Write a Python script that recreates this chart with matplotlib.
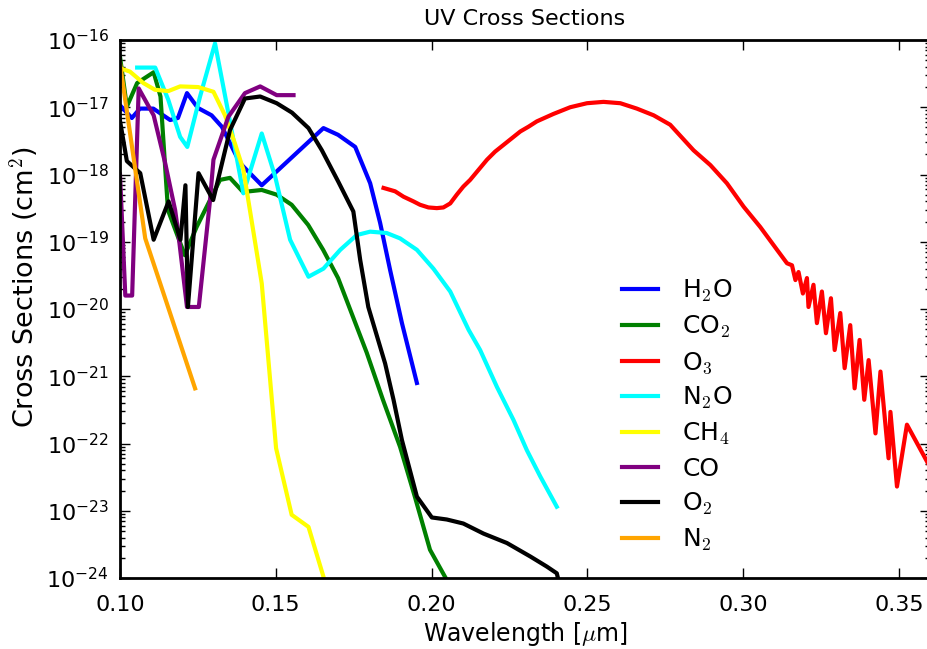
import numpy as np
import matplotlib
matplotlib.use('Agg')
import matplotlib.pyplot as plt
from matplotlib.ticker import (FixedLocator, FormatStrFormatter, NullFormatter,
                               LogFormatterSciNotation, LogLocator)

# Values; cross sections kept as log10(cm^2)
h2o_x = [0.100, 0.1038, 0.1064, 0.1107, 0.1161, 0.1186, 0.1215, 0.1250, 0.1294, 0.1327,
         0.1385, 0.1455, 0.1653, 0.1700, 0.1755, 0.1803, 0.1835, 0.1867, 0.1905, 0.1953]
h2o_log = [-16.97, -17.16, -17.02, -17.02, -17.19, -17.16, -16.79, -17.01, -17.12, -17.29,
           -17.83, -18.16, -17.31, -17.41, -17.59, -18.13, -18.72, -19.42, -20.21, -21.10]

co2_x = [0.100, 0.1022, 0.1055, 0.1108, 0.1130, 0.1154, 0.1208, 0.1246, 0.1289, 0.1321,
         0.1353, 0.1395, 0.1455, 0.1503, 0.1551, 0.1604, 0.1652, 0.1700, 0.1739, 0.1792,
         0.1844, 0.1899, 0.1947, 0.1995, 0.2049, 0.2058]
co2_log = [-16.25, -16.99, -16.64, -16.48, -16.84, -18.53, -19.20, -18.78, -18.38, -18.08,
           -18.05, -18.26, -18.23, -18.30, -18.45, -18.75, -19.12, -19.54, -20.01, -20.65,
           -21.35, -22.05, -22.80, -23.58, -24.03, -24.15]

o3_x = [0.1846, 0.1883, 0.1910, 0.1942, 0.1963, 0.1990, 0.2017, 0.2038, 0.2060, 0.2081,
        0.2102, 0.2124, 0.2151, 0.2178, 0.2204, 0.2231, 0.2258, 0.2285, 0.2311, 0.2338,
        0.2391, 0.2445, 0.2499, 0.2552, 0.2606, 0.2659, 0.2713, 0.2766, 0.2841, 0.2895,
        0.2948, 0.3002, 0.3055, 0.3109, 0.3141, 0.3157, 0.3168, 0.3178, 0.3192, 0.3205,
        0.3210, 0.3226, 0.3237, 0.3253, 0.3266, 0.3282, 0.3294, 0.3312, 0.3326, 0.3344,
        0.3358, 0.3374, 0.3389, 0.3403, 0.3425, 0.3441, 0.3467, 0.3473, 0.3494, 0.3526,
        0.3600]
o3_log = [-18.20, -18.25, -18.33, -18.40, -18.45, -18.49, -18.50, -18.49, -18.43, -18.30,
          -18.18, -18.08, -17.93, -17.78, -17.66, -17.56, -17.46, -17.36, -17.29, -17.21,
          -17.10, -17.00, -16.94, -16.92, -16.94, -17.02, -17.12, -17.26, -17.64, -17.86,
          -18.13, -18.48, -18.78, -19.12, -19.32, -19.35, -19.57, -19.45, -19.77, -19.54,
          -19.97, -19.64, -20.21, -19.74, -20.36, -19.84, -20.61, -20.06, -20.88, -20.24,
          -21.18, -20.46, -21.35, -20.76, -21.85, -20.93, -22.22, -21.53, -22.64, -21.72,
          -22.35]

n2o_x = [0.1055, 0.1113, 0.1155, 0.1193, 0.1216, 0.1257, 0.1305, 0.1348, 0.1396, 0.1455,
         0.1498, 0.1546, 0.1605, 0.1653, 0.1707, 0.1760, 0.1803, 0.1856, 0.1899, 0.1953,
         0.2006, 0.2060, 0.2119, 0.2156, 0.2210, 0.2263, 0.2306, 0.2349, 0.2402]
n2o_log = [-16.41, -16.41, -16.89, -17.44, -17.59, -16.84, -16.05, -17.09, -18.28, -17.39,
           -18.03, -18.97, -19.52, -19.40, -19.12, -18.90, -18.85, -18.87, -18.95, -19.12,
           -19.40, -19.74, -20.31, -20.61, -21.16, -21.65, -22.10, -22.49, -22.94]

ch4_x = [0.100, 0.1032, 0.1075, 0.1112, 0.1155, 0.1193, 0.1251, 0.1300, 0.1337, 0.1369,
         0.1396, 0.1417, 0.1455, 0.1482, 0.1501, 0.1551, 0.1605, 0.1653, 0.1665]
ch4_log = [-16.42, -16.47, -16.64, -16.74, -16.76, -16.69, -16.70, -16.77, -17.12, -17.54,
           -17.93, -18.53, -19.62, -21.06, -22.07, -23.06, -23.24, -23.98, -24.20]

co_x = [0.100, 0.1017, 0.1039, 0.1060, 0.1108, 0.1145, 0.1177, 0.1187, 0.1215, 0.1253,
        0.1289, 0.1300, 0.1348, 0.1401, 0.1450, 0.1503, 0.1557]
co_log = [-18.00, -19.80, -19.80, -16.72, -17.12, -17.83, -18.53, -18.87, -19.97, -19.97,
          -18.38, -17.78, -17.14, -16.79, -16.69, -16.82, -16.82]

o2_x = [0.100, 0.1022, 0.1065, 0.1108, 0.1156, 0.1194, 0.1210, 0.1218, 0.1252, 0.1299,
        0.1353, 0.1401, 0.1450, 0.1503, 0.1552, 0.1605, 0.1648, 0.1701, 0.1749, 0.1771,
        0.1797, 0.1851, 0.1878, 0.1905, 0.1953, 0.2001, 0.2049, 0.2102, 0.2167, 0.2242,
        0.2317, 0.2370, 0.2402, 0.2410]
o2_log = [-17.20, -17.80, -17.98, -18.97, -18.40, -18.97, -18.16, -19.97, -17.98, -18.38,
          -17.34, -16.87, -16.84, -16.94, -17.08, -17.31, -17.64, -18.11, -18.55, -19.27,
          -19.97, -20.81, -21.35, -21.95, -22.79, -23.10, -23.13, -23.19, -23.34, -23.48,
          -23.68, -23.83, -23.93, -24.08]

n2_x = [0.100, 0.1081, 0.1241]
n2_log = [-16.35, -18.95, -21.18]

species = [
    ('H$_2$O', h2o_x, h2o_log, 'blue'),
    ('CO$_2$', co2_x, co2_log, 'green'),
    ('O$_3$', o3_x, o3_log, 'red'),
    ('N$_2$O', n2o_x, n2o_log, 'cyan'),
    ('CH$_4$', ch4_x, ch4_log, 'yellow'),
    ('CO', co_x, co_log, 'purple'),
    ('O$_2$', o2_x, o2_log, 'black'),
    ('N$_2$', n2_x, n2_log, 'orange'),
]

xticks = [0.10, 0.15, 0.20, 0.25, 0.30, 0.35]
ydecades = [1e-24, 1e-23, 1e-22, 1e-21, 1e-20, 1e-19, 1e-18, 1e-17, 1e-16]

plt.rcParams['mathtext.fontset'] = 'cm'
plt.rcParams['axes.unicode_minus'] = False
plt.rcParams['xtick.direction'] = 'in'
plt.rcParams['ytick.direction'] = 'in'
plt.rcParams['xtick.top'] = True
plt.rcParams['ytick.right'] = True

fig = plt.figure(figsize=(9.28, 6.49), dpi=100)
ax = fig.add_axes([120 / 928, 71 / 649, 810 / 928, 538 / 649])

# plot each gas, data is stored as log10 so convert back
for name, xs, logs, col in species:
    ax.plot(xs, 10.0 ** np.array(logs), color=col, lw=3, label=name)

ax.set_yscale('log')
ax.set_xlim(0.10, 0.36)
ax.set_ylim(1e-24, 1e-16)
ax.xaxis.set_major_locator(FixedLocator(xticks))
ax.xaxis.set_major_formatter(FormatStrFormatter('%.2f'))
ax.yaxis.set_major_locator(FixedLocator(ydecades))
ax.yaxis.set_major_formatter(LogFormatterSciNotation())
ax.yaxis.set_minor_locator(LogLocator(base=10, subs=np.arange(2, 10)))
ax.yaxis.set_minor_formatter(NullFormatter())

ax.tick_params(which='major', length=7, width=1, labelsize=16)
ax.tick_params(axis='x', which='major', pad=12)
ax.tick_params(axis='y', which='major', pad=8)
ax.tick_params(which='minor', length=3.5, width=1)
for sp in ax.spines.values():
    sp.set_linewidth(2)

ax.set_title('UV Cross Sections', fontsize=16, pad=11)
ax.set_xlabel('Wavelength [$\\mu$m]', fontsize=17)
ax.set_ylabel('Cross Sections (cm$^2$)', fontsize=19.5)
ax.yaxis.set_label_coords(-0.098, 0.54)

ax.legend(loc='upper left', bbox_to_anchor=(0.5925, 0.599), frameon=False,
          fontsize=18, handlelength=1.42, handletextpad=0.98, labelspacing=0.385)

fig.savefig('out.png', dpi=100)
